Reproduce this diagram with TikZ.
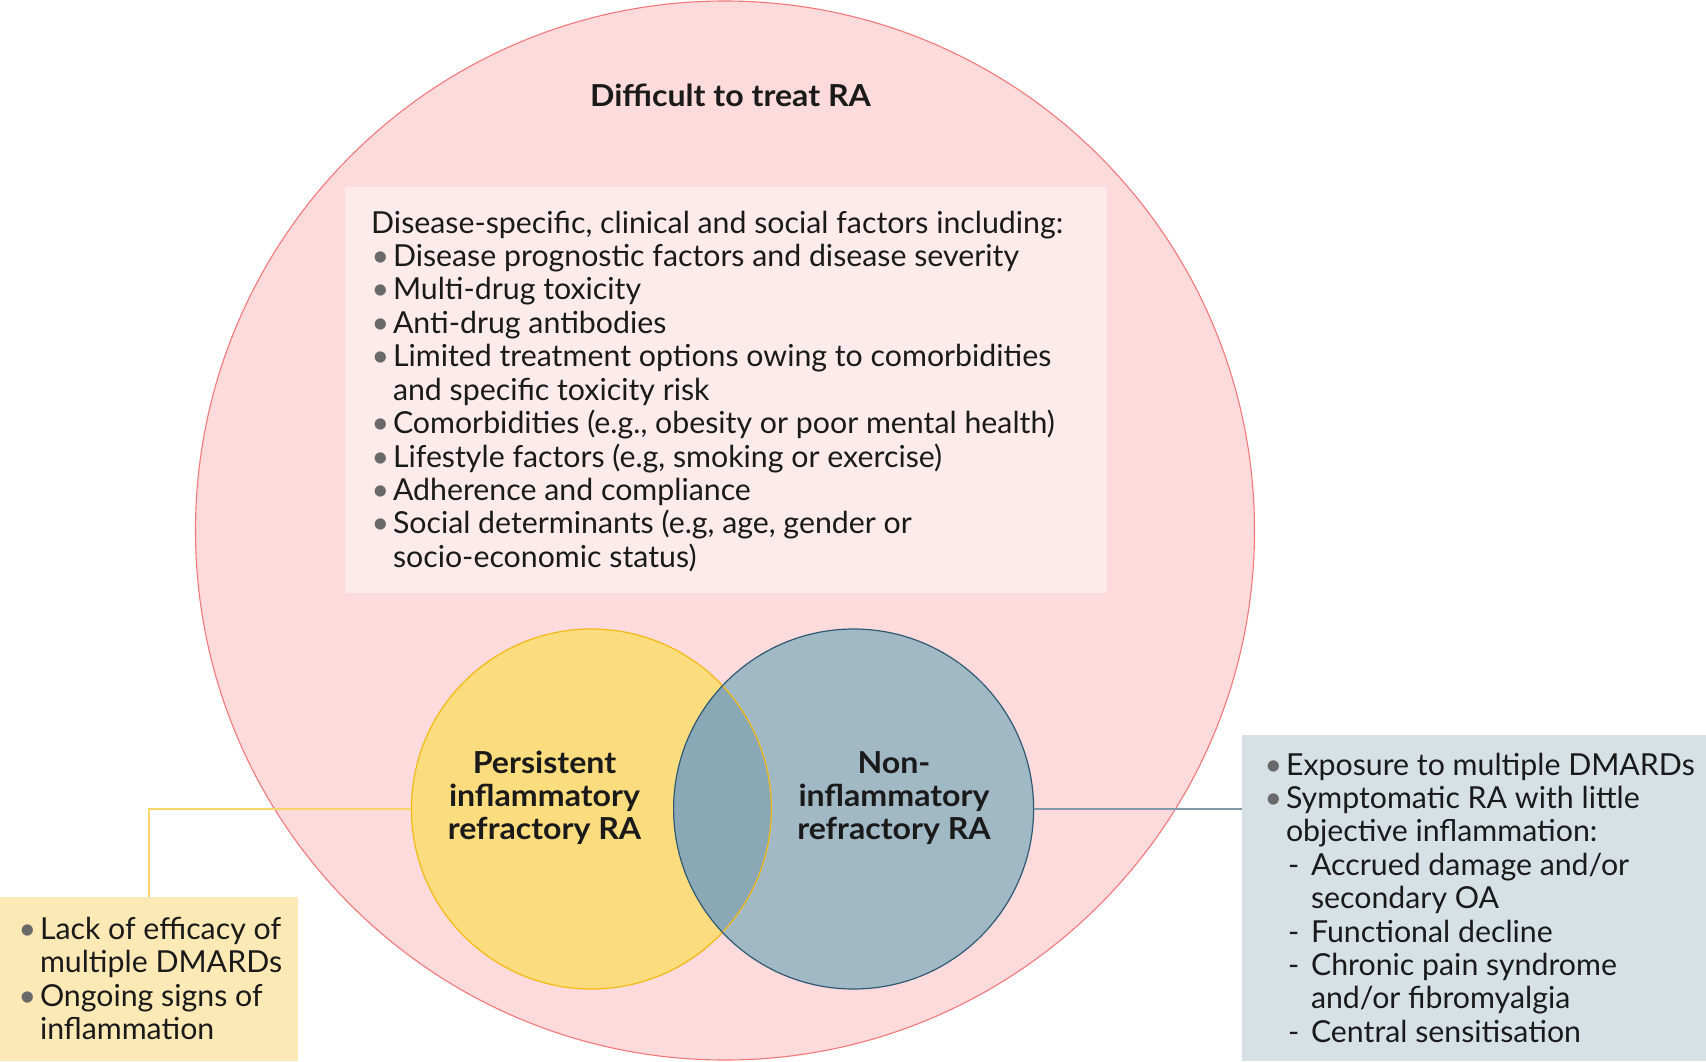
\documentclass[tikz,border=0pt]{standalone}
\usepackage{fontspec}
\setmainfont{Lato}[BoldFeatures={FakeStretch=1.06}]
\definecolor{bigfill}{RGB}{253,218,219}
\definecolor{bigline}{RGB}{242,120,122}
\definecolor{factfill}{RGB}{253,234,235}
\definecolor{yfill}{RGB}{251,220,126}
\definecolor{yline}{RGB}{244,186,20}
\definecolor{ylink}{RGB}{249,212,106}
\definecolor{bfill}{RGB}{161,184,197}
\definecolor{bline}{RGB}{46,90,118}
\definecolor{blink}{RGB}{128,154,170}
\definecolor{ovfill}{RGB}{138,168,181}
\definecolor{lboxfill}{RGB}{253,233,182}
\definecolor{rboxfill}{RGB}{214,225,230}
\definecolor{bulgray}{RGB}{105,105,105}
\definecolor{ink}{RGB}{26,26,26}
\newcommand{\bl}{\makebox[21.8pt][l]{\hspace{0.5pt}\textcolor{bulgray}{•}}}
\newcommand{\ind}{\hspace*{21.8pt}}
\newcommand{\dsh}{\hspace*{21.8pt}\makebox[25pt][l]{\hspace{2pt}-}}
\newcommand{\dind}{\hspace*{46.8pt}}
\tikzset{
  txt/.style={inner sep=0pt, font=\fontsize{30.3}{33.4}\selectfont, text=ink},
  btxt/.style={inner sep=0pt, font=\bfseries\fontsize{30.3}{33.4}\selectfont, text=ink},
  venn/.style={circle, minimum size=360pt, inner sep=0pt, outer sep=0pt},
  panel/.style={rectangle, inner sep=0pt, outer sep=0pt},
  link/.style={line width=1.4pt},
}
\begin{document}
\begin{tikzpicture}[x=1pt,y=-1pt]
\useasboundingbox (0,0) rectangle (1706,1061);
% big circle
\node[circle, minimum size=1059pt, inner sep=0pt, fill=bigfill, draw=bigline, line width=1.1pt] (big) at (725,530.5) {};
\node[btxt, anchor=base] (title) at (730.5,106.5) {Difficult to treat RA};
% factors box
\node[panel, fill=factfill, minimum width=761.6pt, minimum height=406pt] (fbox) at (725.8,390) {};
\node[txt, anchor=base west] (ftext) at (371,233) {\begin{tabular}[t]{@{}l@{}}
Disease-specific, clinical and social factors including:\\
\bl Disease prognostic factors and disease severity\\
\bl Multi-drug toxicity\\
\bl Anti-drug antibodies\\
\bl Limited treatment options owing to comorbidities\\
\ind and specific toxicity risk\\
\bl Comorbidities (e.g., obesity or poor mental health)\\
\bl Lifestyle factors (e.g, smoking or exercise)\\
\bl Adherence and compliance\\
\bl Social determinants (e.g, age, gender or\\
\ind socio-economic status)
\end{tabular}};
% venn circles
\node[venn, fill=yfill] (ycirc) at (591.4,809) {};
\node[venn, fill=bfill] (bcirc) at (853.6,809) {};
\begin{scope}
  \clip (ycirc.center) circle[radius=180pt];
  \fill[ovfill] (bcirc.center) circle[radius=180pt];
\end{scope}
\draw[yline, line width=1.2pt] (ycirc.center) circle[radius=180pt];
\draw[bline, line width=1.2pt] (bcirc.center) circle[radius=180pt];
\node[btxt, anchor=base] (ylabel) at (544.5,773) {\begin{tabular}[t]{@{}c@{}}Persistent\\inflammatory\\refractory RA\end{tabular}};
\node[btxt, anchor=base] (blabel) at (894,773) {\begin{tabular}[t]{@{}c@{}}Non-\\inflammatory\\refractory RA\end{tabular}};
% side boxes
\node[panel, fill=lboxfill, minimum width=297.7pt, minimum height=164pt] (lbox) at (148.85,979) {};
\node[panel, fill=rboxfill, minimum width=463.7pt, minimum height=326pt] (rbox) at (1474.15,898) {};
% connectors
\draw[link, ylink] (ycirc.west) -| (lbox.north);
\draw[link, blink] (bcirc.east) -- (bcirc.east -| rbox.west);
% side texts
\node[txt, anchor=base west] (ltext) at (18,939.3) {\begin{tabular}[t]{@{}l@{}}
\bl Lack of efficacy of\\
\ind multiple DMARDs\\
\bl Ongoing signs of\\
\ind inflammation
\end{tabular}};
\node[txt, anchor=base west] (rtext) at (1264,775) {\begin{tabular}[t]{@{}l@{}}
\bl Exposure to multiple DMARDs\\
\bl Symptomatic RA with little\\
\ind objective inflammation:\\
\dsh Accrued damage and/or\\
\dind secondary OA\\
\dsh Functional decline\\
\dsh Chronic pain syndrome\\
\dind and/or fibromyalgia\\
\dsh Central sensitisation
\end{tabular}};
\end{tikzpicture}
\end{document}
